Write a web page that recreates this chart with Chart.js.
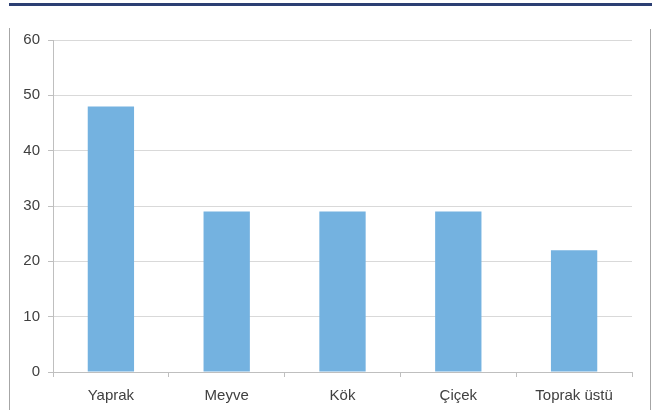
<!DOCTYPE html>
<html>
<head>
<meta charset="utf-8">
<script src="https://cdn.jsdelivr.net/npm/chart.js@4"></script>
<style>
  html, body { margin: 0; padding: 0; background: #fff; }
  #wrap { position: relative; width: 652px; height: 410px; overflow: hidden; }
  #topline { position: absolute; left: 9px; top: 3px; width: 643px; height: 3px; background: #2c3f73; }
  #leftline { position: absolute; left: 9px; top: 28px; width: 1px; height: 382px; background: #a6a6a6; }
  #rightline { position: absolute; left: 650px; top: 29px; width: 1px; height: 381px; background: #a6a6a6; }
  #myChart { position: absolute; left: 0; top: 0; }
</style>
</head>
<body>
<div id="wrap">
  <div id="topline"></div>
  <div id="leftline"></div>
  <div id="rightline"></div>
  <canvas id="myChart" width="652" height="410"></canvas>
</div>
<script>
const categories = ['Yaprak', 'Meyve', 'Kök', 'Çiçek', 'Toprak üstü'];
const values = [48, 29, 29, 29, 22];
const yTicks = [0, 10, 20, 30, 40, 50, 60];

const ctx = document.getElementById('myChart').getContext('2d');
new Chart(ctx, {
    type: 'bar',
    data: {
        labels: categories,
        datasets: [{
            data: values,
            backgroundColor: '#74b2e0',
            barPercentage: 0.4,
            categoryPercentage: 1.0
        }]
    },
    options: {
        responsive: false,
        animation: false,
        layout: { padding: { left: 0, right: 20, top: 40, bottom: -5 } },
        plugins: { legend: { display: false }, tooltip: { enabled: false } },
        scales: {
            x: {
                grid: { offset: true, drawOnChartArea: false, drawTicks: true, tickLength: 5, color: '#bfbfbf' },
                border: { display: true, color: '#bfbfbf' },
                ticks: { color: '#404040', font: { family: 'Liberation Sans', size: 15 }, padding: 10 }
            },
            y: {
                min: 0,
                max: 60,
                afterFit: function (scale) { scale.width = 53; },
                afterBuildTicks: function (scale) { scale.ticks = yTicks.map(v => ({ value: v })); },
                grid: { color: '#d9d9d9', tickLength: 5, tickColor: '#bfbfbf' },
                border: { display: true, color: '#bfbfbf' },
                ticks: { color: '#404040', font: { family: 'Liberation Sans', size: 15 }, padding: 8 }
            }
        }
    }
});
</script>
</body>
</html>
